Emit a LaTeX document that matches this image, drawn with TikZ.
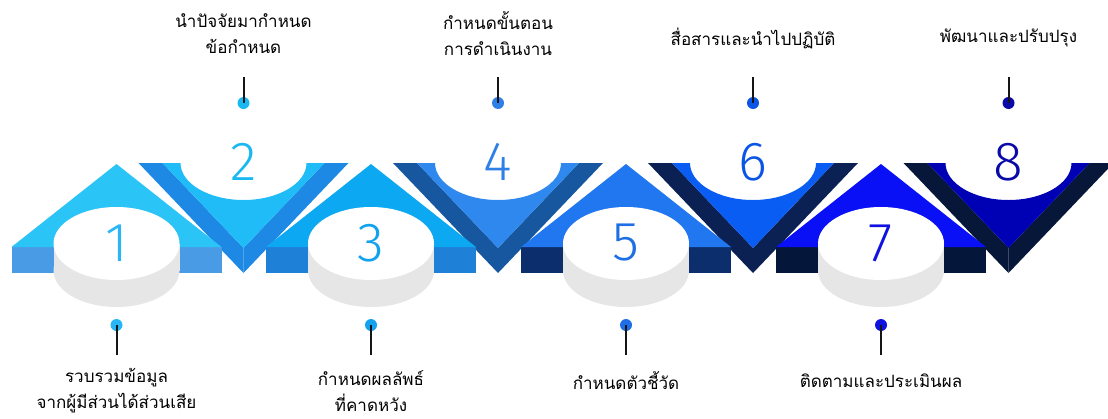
\documentclass[tikz,border=0pt]{standalone}
\usepackage{fontspec}
\newfontfamily\thai[Script=Thai]{Loma}
\newfontfamily\numfont{Fira Sans Light}
\definecolor{u1}{HTML}{2BC4F7}\definecolor{f1}{HTML}{4A9BE6}
\definecolor{u3}{HTML}{0CA8F2}\definecolor{f3}{HTML}{1F80D8}
\definecolor{u5}{HTML}{2177F0}\definecolor{f5}{HTML}{0D2E6C}
\definecolor{u7}{HTML}{0A10F5}\definecolor{f7}{HTML}{04173A}
\definecolor{v2}{HTML}{20BCF7}\definecolor{w2}{HTML}{1E88E5}
\definecolor{v4}{HTML}{2F88EE}\definecolor{w4}{HTML}{16579F}
\definecolor{v6}{HTML}{0A5DF2}\definecolor{w6}{HTML}{0B2154}
\definecolor{v8}{HTML}{0000B5}\definecolor{w8}{HTML}{06173A}
\definecolor{c1}{HTML}{29B6F6}\definecolor{c2}{HTML}{1AB8F2}
\definecolor{c3}{HTML}{12A2EE}\definecolor{c4}{HTML}{2F80E6}
\definecolor{c5}{HTML}{1E6EE6}\definecolor{c6}{HTML}{0B55E6}
\definecolor{c7}{HTML}{1212E0}\definecolor{c8}{HTML}{0A0AA8}
\definecolor{discside}{HTML}{E6E6E6}
\definecolor{stemcol}{HTML}{151515}
\tikzset{
  numtxt/.style={font=\numfont\fontsize{55}{55}\selectfont, inner sep=0pt},
  lbl/.style={font=\thai\fontsize{17}{26}\selectfont, align=center, inner sep=0pt, text=black},
  dotn/.style={circle, inner sep=0pt, minimum size=12pt},
  stem/.style={line width=2pt, draw=stemcol}
}
\begin{document}
\begin{tikzpicture}[x=1pt,y=-1pt]
\useasboundingbox (0,0) rectangle (1108,418);
\clip (0,0) rectangle (1108,418);
% V pieces (even steps)
\foreach \k/\cx/\tp/\wl in {2/243.5/v2/w2, 4/498/v4/w4, 6/753/v6/w6, 8/1008.5/v8/w8} {
  \fill[\wl] ({\cx-105},163) -- ({\cx-81},163) -- (\cx,248) -- (\cx,273) -- cycle;
  \fill[\wl] ({\cx+105},163) -- ({\cx+81},163) -- (\cx,248) -- (\cx,273) -- cycle;
  \fill[\tp] ({\cx-81},163) -- ({\cx-63},163) arc[start angle=180, end angle=0, x radius=63, y radius=37] -- ({\cx+81},163) -- (\cx,248) -- cycle;
}
% roof pieces (odd steps) with discs
\foreach \k/\cx/\tp/\fr in {1/116.5/u1/f1, 3/371/u3/f3, 5/626/u5/f5, 7/881/u7/f7} {
  \fill[\fr] ({\cx-105},247) rectangle ({\cx+105},273);
  \fill[\tp] ({\cx-105},247) -- (\cx,164) -- ({\cx+105},247) -- cycle;
  \fill[discside] ({\cx-63},243.5) rectangle ({\cx+63},270.5);
  \fill[discside] (\cx,270.5) ellipse[x radius=63, y radius=36.5];
  \fill[white] (\cx,243.5) ellipse[x radius=63, y radius=36.5];
}
% numbers
\foreach \k/\cx in {1/116.5, 3/371, 5/626, 7/881} {
  \node[numtxt, text=c\k] (n\k) at (\cx,243) {\k};
}
\foreach \k/\cx in {2/243.5, 4/498, 6/753, 8/1008.5} {
  \node[numtxt, text=c\k] (n\k) at (\cx,162) {\k};
}
% top labels, stems and dots
\foreach \k/\cx/\ly/\txt in {2/243.5/34/{นำปัจจัยมากำหนด\\ข้อกำหนด}, 4/498/34/{กำหนดขั้นตอน\\การดำเนินงาน}, 6/753/38/{สื่อสารและนำไปปฏิบัติ}, 8/1008.5/38/{พัฒนาและปรับปรุง}} {
  \node[lbl] (L\k) at (\cx,\ly) {\txt};
  \coordinate (s\k) at (\cx,77);
  \node[dotn, fill=c\k] (d\k) at (\cx,103) {};
  \draw[stem] (s\k) -- (d\k.center);
}
% bottom labels, stems and dots
\foreach \k/\cx/\ly/\txt in {1/116.5/391/{รวบรวมข้อมูล\\จากผู้มีส่วนได้ส่วนเสีย}, 3/371/391/{กำหนดผลลัพธ์\\ที่คาดหวัง}, 5/626/381/{กำหนดตัวชี้วัด}, 7/881/381/{ติดตามและประเมินผล}} {
  \node[lbl] (L\k) at (\cx,\ly) {\txt};
  \coordinate (s\k) at (\cx,355);
  \node[dotn, fill=c\k] (d\k) at (\cx,325) {};
  \draw[stem] (s\k) -- (d\k.center);
}
\end{tikzpicture}
\end{document}
